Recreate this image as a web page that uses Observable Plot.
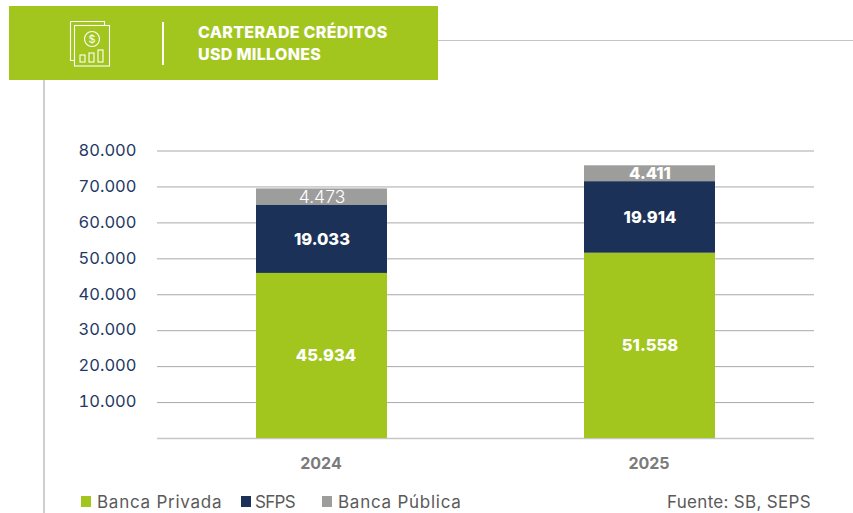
<!DOCTYPE html>
<html><head><meta charset="utf-8">
<script src="https://cdn.jsdelivr.net/npm/d3@7"></script>
<script src="https://cdn.jsdelivr.net/npm/@observablehq/plot@0.6"></script>
<style>
html,body{margin:0;padding:0;background:#fff;overflow:hidden}
#wrap{position:relative;width:853px;height:513px;font-family:Inter,"Open Sans",sans-serif}
#plot{position:absolute;left:0;top:0}
#plot svg{display:block;background:transparent}
.abs{position:absolute}
#banner{left:9px;top:6px;width:429px;height:74px;background:#A2C61E}
#title{left:198px;top:22px;color:#fff;font-weight:800;font-size:16px;line-height:21.5px;letter-spacing:.3px;white-space:nowrap}
.leg{position:absolute;top:492px;font-size:17px;line-height:20px;color:#5a5a5a;white-space:nowrap;letter-spacing:.75px}
.sw{position:absolute;top:496px;width:10px;height:11px}
</style></head><body>
<div id="wrap">
  <div class="abs" style="left:437px;top:40px;width:416px;height:1px;background:#c4c4c4"></div>
  <div class="abs" style="left:43px;top:80px;width:2px;height:433px;background:#cfcfcf"></div>
  <div id="plot"></div>
  <div class="abs" id="banner"></div>
  <svg class="abs" style="left:68px;top:18px" width="44" height="50" viewBox="0 0 44 50" fill="none" stroke="#fff" stroke-width="1.1">
    <path d="M2.5 3.5H36.5V7.5M6.5 42.5H2.5V3.5"/>
    <rect x="6.5" y="7.5" width="35" height="40.5"/>
    <circle cx="24" cy="21" r="7.5"/>
    <text x="24" y="25" text-anchor="middle" font-size="11" fill="#fff" stroke="none" font-family="Inter">$</text>
    <rect x="12" y="37" width="5" height="7"/><rect x="21" y="35" width="5" height="9"/><rect x="30" y="32" width="5" height="12"/>
  </svg>
  <div class="abs" style="left:162px;top:22px;width:2px;height:43px;background:#fff"></div>
  <div class="abs" id="title">CARTERADE CRÉDITOS<br>USD MILLONES</div>
  <div id="legend"></div>
  <div class="leg" style="left:667px;letter-spacing:.3px">Fuente: SB, SEPS</div>
</div>
<script>
const years = ["2024", "2025"];
const seriesNames = ["Banca Privada", "SFPS", "Banca Pública"];
const bancaPrivada = [45934, 51558];
const sfps = [19033, 19914];
const bancaPublica = [4473, 4411];
const colors = ["#A2C61E", "#1C3157", "#9D9D9C"];
const yTicks = [10000, 20000, 30000, 40000, 50000, 60000, 70000, 80000];

const values = [bancaPrivada, sfps, bancaPublica];
const rows = seriesNames.flatMap((s, i) => years.map((y, j) => ({year: y, series: s, value: values[i][j]})));
const fmt = d3.formatLocale({decimal: ",", thousands: ".", grouping: [3], currency: ["$", ""]}).format(",d");
const font = 'Inter, "Open Sans", sans-serif';
const stack = {x: "year", y: "value", z: "series", order: null};
const isLight = d => d.series === "Banca Pública" && d.year === "2024";
const isShifted = d => d.series === "Banca Privada" && d.year === "2024";

const chart = Plot.plot({
  width: 853, height: 513,
  marginLeft: 157, marginRight: 39, marginTop: 150.5, marginBottom: 75,
  style: {background: "transparent", fontFamily: font, overflow: "visible"},
  x: {domain: years, paddingInner: 0.6, paddingOuter: 0.3, label: null},
  y: {domain: [0, 80000], label: null},
  color: {domain: seriesNames, range: colors},
  marks: [
    Plot.ruleY(yTicks, {stroke: "#a9a9a9", strokeWidth: 1}),
    Plot.ruleY([0], {stroke: "#c6c6c6", strokeWidth: 1.5}),
    Plot.barY(rows, Plot.stackY({...stack, fill: "series"})),
    Plot.text(rows, Plot.stackY({...stack, text: d => (isLight(d) || isShifted(d)) ? "" : fmt(d.value), fill: "#fff", fontSize: 16.5, fontWeight: 800})),
    Plot.text(rows, Plot.stackY({...stack, text: d => isShifted(d) ? fmt(d.value) : "", fill: "#fff", fontSize: 16.5, fontWeight: 800, dx: 4})),
    Plot.text(rows, Plot.stackY({...stack, text: d => isLight(d) ? fmt(d.value) : "", fill: "#fff", fontSize: 17.5, fontWeight: 300})),
    Plot.axisY({ticks: yTicks, tickSize: 0, tickPadding: 21, tickFormat: fmt, fontSize: 16.5, fill: "#1F3864", label: null, dy: -0.5}),
    Plot.axisX({tickSize: 0, tickPadding: 19, fontSize: 16, fontWeight: 700, fill: "#7b7b7b", label: null, dx: -1})
  ]
});
document.getElementById("plot").appendChild(chart);

const legendX = [[81, 97], [241, 255], [322, 338]];
const legendSpacing = ["0.75px", "-0.7px", "0.75px"];
const legend = document.getElementById("legend");
seriesNames.forEach((s, i) => {
  const sw = document.createElement("div");
  sw.className = "sw"; sw.style.left = legendX[i][0] + "px"; sw.style.background = colors[i];
  const t = document.createElement("div");
  t.className = "leg"; t.style.left = legendX[i][1] + "px"; t.style.letterSpacing = legendSpacing[i]; t.textContent = s;
  legend.append(sw, t);
});
</script>
</body></html>
